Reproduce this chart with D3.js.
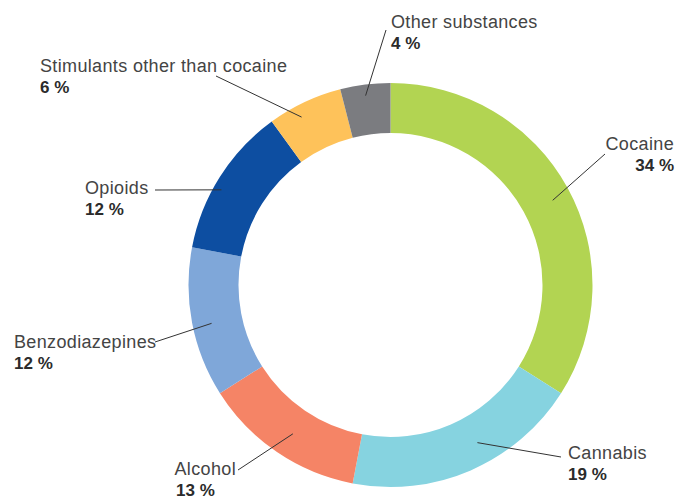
<!DOCTYPE html>
<html><head><meta charset="utf-8">
<script src="https://cdn.jsdelivr.net/npm/d3@7"></script>
<style>body{margin:0;background:#fff}</style></head>
<body><svg id="c" width="676" height="500"></svg>
<script>
const categories = ["Cocaine","Cannabis","Alcohol","Benzodiazepines","Opioids","Stimulants other than cocaine","Other substances"];
const values = [34,19,13,12,12,6,4];
const colors = ["#b2d452","#86d3e0","#f58466","#7fa7d9","#0d4ea1","#fec25a","#7b7c80"];

// label layout: text anchor position, alignment, leader end (fraction within slice, radius)
const labelLayout = [
  {x:674,y:150,anchor:"end",   lx:605,ly:154, t:0.51, r:183},
  {x:568,y:459,anchor:"start", lx:561,ly:457, t:0.42, r:180},
  {x:236,y:475,anchor:"end",   lx:238,ly:470, t:0.48, r:178, px:176, pAnchor:"start"},
  {x:14, y:348,anchor:"start", lx:155,ly:342, t:0.47, r:183},
  {x:85, y:194,anchor:"start", lx:155,ly:190, t:0.43, r:194},
  {x:40, y:72, anchor:"start", lx:216,ly:76,  t:0.375,r:190},
  {x:391,y:28, anchor:"start", lx:386,ly:30,  t:0.48, r:191}
];

const svg = d3.select("#c");
const cx = 390.5, cy = 285, R = 202, r0 = 152;
const g = svg.append("g").attr("transform",`translate(${cx},${cy})`);
const pie = d3.pie().sort(null).value(d=>d)(values);
const arc = d3.arc().innerRadius(r0).outerRadius(R);
g.selectAll("path").data(pie).join("path").attr("d",arc).attr("fill",(d,i)=>colors[i]);

const font = "Liberation Sans, Arial, sans-serif";
pie.forEach((d,i)=>{
  const L = labelLayout[i];
  const a = d.startAngle + (d.endAngle-d.startAngle)*L.t;
  const ex = cx + L.r*Math.sin(a), ey = cy - L.r*Math.cos(a);
  svg.append("line").attr("x1",L.lx).attr("y1",L.ly).attr("x2",ex).attr("y2",ey)
    .attr("stroke","#333").attr("stroke-width",1);
  svg.append("text").attr("x",L.x).attr("y",L.y).attr("text-anchor",L.anchor)
    .attr("font-family",font).attr("font-size",18).attr("letter-spacing","0.35px").attr("fill","#444")
    .text(categories[i]);
  svg.append("text").attr("x",L.px!==undefined?L.px:L.x).attr("y",L.y+21)
    .attr("text-anchor",L.pAnchor||L.anchor)
    .attr("font-family",font).attr("font-size",17).attr("font-weight","bold").attr("fill","#2b2b2b")
    .text(values[i]+" %");
});
</script></body></html>
